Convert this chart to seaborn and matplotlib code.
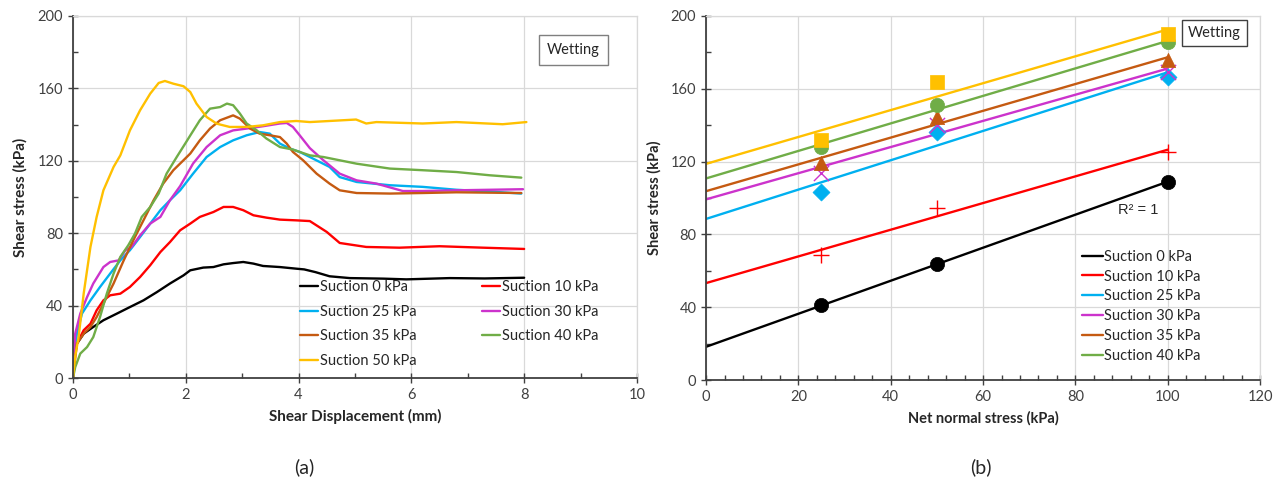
import numpy as np
import matplotlib
matplotlib.use("Agg")
import matplotlib.pyplot as plt
from matplotlib.ticker import MultipleLocator
import seaborn as sns

# --- (a) shear stress vs shear displacement, wetting path ---
disp_0 = [0, 0.03, 0.07, 0.19, 0.36, 0.54, 0.78, 1.01, 1.25, 1.49, 1.72, 1.96, 2.08, 2.31, 2.49,
          2.67, 2.84, 3.02, 3.2, 3.37, 3.67, 3.96, 4.1, 4.3, 4.55, 4.91, 5.5, 5.91, 6.68, 7.3, 8.0]
tau_0 = [0, 12, 19, 24.5, 28.2, 31.9, 35.6, 39.2, 42.9, 47.5, 52.2, 56.7, 59.5, 61, 61.3,
         62.8, 63.5, 64.1, 63.2, 61.9, 61.3, 60.4, 60, 58.5, 56.2, 55.2, 54.9, 54.5, 55.2, 55.0, 55.4]

disp_10 = [0, 0.03, 0.07, 0.19, 0.31, 0.42, 0.54, 0.66, 0.84, 1.01, 1.19, 1.37, 1.55, 1.72, 1.90, 2.08,
           2.25, 2.49, 2.67, 2.84, 3.02, 3.20, 3.43, 3.67, 3.96, 4.2, 4.5, 4.73, 5.2, 5.79, 6.5, 7.27, 8.0]
tau_10 = [0, 12, 19, 26.4, 30, 37.4, 42.9, 45.7, 46.6, 50.3, 55.8, 62.3, 69.6, 75.1, 81.6, 85.3,
          89, 91.7, 94.5, 94.5, 92.7, 89.9, 88.6, 87.5, 87.1, 86.7, 80.7, 74.6, 72.4, 72, 72.8, 72, 71.3]

disp_25 = [0, 0.03, 0.07, 0.16, 0.31, 0.48, 0.66, 0.84, 1.01, 1.19, 1.37, 1.55, 1.72, 1.90, 2.13, 2.37,
           2.61, 2.84, 3.08, 3.31, 3.49, 3.67, 3.85, 4.02, 4.2, 4.55, 4.73, 5.03, 5.62, 6.2, 6.8, 7.4, 7.95]
tau_25 = [0, 14, 24.5, 35.6, 42.9, 50.3, 57.7, 65, 70.6, 77.9, 85.3, 92.7, 98.2, 103.7, 112.9, 122.1,
          127.6, 131.3, 134.1, 135.9, 135, 129.5, 126.7, 124.9, 122.1, 116.6, 111, 108.3, 106.5, 105.6, 104, 103, 101.9]

disp_30 = [0, 0.04, 0.13, 0.25, 0.36, 0.54, 0.66, 0.81, 0.93, 1.04, 1.19, 1.37, 1.55, 1.72, 1.90, 2.13, 2.37,
           2.61, 2.84, 3.08, 3.37, 3.67, 3.79, 3.90, 4.02, 4.2, 4.44, 4.73, 5.03, 5.38, 5.85, 6.2, 6.8, 7.4, 7.98]
tau_30 = [0, 24.5, 35.6, 44.7, 52.2, 61.3, 64.1, 65, 70.6, 72.4, 78.8, 85.3, 89, 98.2, 106, 118.5, 127.6,
          134.1, 136.8, 137.8, 139.1, 140.6, 140.9, 138.7, 134.1, 127, 120.3, 112.9, 109.2, 107.4, 103.3, 103.3, 103.7, 104, 104.3]

disp_35 = [0, 0.07, 0.19, 0.31, 0.42, 0.54, 0.72, 0.90, 1.07, 1.25, 1.43, 1.60, 1.78, 1.96, 2.08, 2.25, 2.43,
           2.61, 2.84, 2.96, 3.14, 3.31, 3.49, 3.67, 3.79, 3.90, 4.08, 4.32, 4.55, 4.73, 5.03, 5.62, 6.2, 6.8, 7.95]
tau_35 = [0, 19, 24.5, 28.2, 33.7, 41.1, 52.2, 65, 76.1, 87.1, 98.2, 107.4, 114.8, 120.3, 124, 131.3, 137.8,
          142.4, 145.1, 143.3, 137.8, 135, 134.1, 133.1, 129.5, 124.9, 120.3, 112.9, 107.4, 103.7, 102.2, 101.9, 102.2, 102.6, 102.2]

disp_40 = [0, 0.04, 0.13, 0.25, 0.36, 0.48, 0.6, 0.72, 0.84, 0.98, 1.10, 1.22, 1.37, 1.52, 1.66, 1.84, 1.99,
           2.08, 2.25, 2.43, 2.61, 2.73, 2.84, 2.96, 3.08, 3.26, 3.43, 3.67, 3.90, 4.2, 4.44, 5.03, 5.62, 6.2, 6.8, 7.39, 7.95]
tau_40 = [0, 6, 13.5, 17.1, 22.6, 33.7, 46.6, 57.7, 66.9, 73.3, 79.8, 89, 94.5, 101.9, 112.9, 122.1, 129.5,
          134, 142.4, 148.8, 149.7, 151.6, 150.7, 146.1, 140.6, 136.8, 132.3, 127.6, 126.2, 123, 122.1, 118.4, 115.7, 114.8, 113.8, 112, 110.7]

disp_50 = [0, 0.04, 0.10, 0.19, 0.31, 0.42, 0.54, 0.72, 0.84, 1.01, 1.19, 1.37, 1.52, 1.63, 1.78, 1.96, 2.08,
           2.19, 2.37, 2.55, 2.78, 3.08, 3.37, 3.67, 3.96, 4.2, 5.02, 5.2, 5.38, 6.2, 6.8, 7.62, 8.04]
tau_50 = [0, 12, 22.6, 46.6, 72.4, 89, 103.7, 116.6, 123, 136.8, 147.9, 157.1, 163, 164.1, 162.6, 161.2, 158,
          151.6, 144.2, 140.5, 138.7, 138.7, 139.6, 141.4, 142, 141.4, 142.8, 140.6, 141.4, 140.6, 141.4, 140.2, 141.4]

# --- (b) peak shear stress vs net normal stress ---
net_normal = [25, 50, 100]
peak_0 = [41, 63.5, 109]
peak_10 = [68.5, 94.5, 125]
peak_25 = [103.5, 136.5, 166.5]
peak_30 = [114, 140, 169.5]
peak_35 = [119.5, 144.5, 176]
peak_40 = [128, 151, 185.5]
peak_50 = [132, 163.5, 190]

suction_labels = ["Suction 0 kPa", "Suction 10 kPa", "Suction 25 kPa", "Suction 30 kPa",
                  "Suction 35 kPa", "Suction 40 kPa", "Suction 50 kPa"]
colors = ["#000000", "#FF0000", "#00B0F0", "#CC33CC", "#C55A11", "#70AD47", "#FFC000"]
markers = ["o", "+", "D", "x", "^", "o", "s"]

curves = [(disp_0, tau_0), (disp_10, tau_10), (disp_25, tau_25), (disp_30, tau_30),
          (disp_35, tau_35), (disp_40, tau_40), (disp_50, tau_50)]
peaks = [peak_0, peak_10, peak_25, peak_30, peak_35, peak_40, peak_50]

sns.set_style("whitegrid")
plt.rcParams["font.family"] = ["Lato", "DejaVu Sans"]

fig, (ax1, ax2) = plt.subplots(1, 2, figsize=(12.8, 4.86), dpi=100)
ax1.set_position([0.0570, 0.2222, 0.4406, 0.7449])
ax2.set_position([0.5516, 0.2181, 0.4328, 0.7490])

# --- panel (a) ---
for (xs, ys), lab, col in zip(curves, suction_labels, colors):
    sns.lineplot(x=xs, y=ys, ax=ax1, color=col, lw=1.7, label=lab, sort=False, estimator=None)

ax1.set_xlim(0, 10)
ax1.set_ylim(0, 200)
ax1.xaxis.set_major_locator(MultipleLocator(2))
ax1.xaxis.set_minor_locator(MultipleLocator(1))
ax1.yaxis.set_major_locator(MultipleLocator(40))
ax1.yaxis.set_minor_locator(MultipleLocator(20))
ax1.set_xlabel("Shear Displacement (mm)", fontsize=11, fontweight="bold", labelpad=5)
ax1.set_ylabel("Shear stress (kPa)", fontsize=11, fontweight="bold", labelpad=7)

h, l = ax1.get_legend_handles_labels()
order = [0, 2, 4, 6, 1, 3, 5]
ax1.legend([h[i] for i in order], [l[i] for i in order], ncol=2, frameon=False,
           loc="upper left", bbox_to_anchor=(0.4025, 0.27), borderpad=0, borderaxespad=0,
           fontsize=10.5, handlelength=1.25, handletextpad=0.12, labelspacing=0.72, columnspacing=4.5)

ax1.text(8.87, 181, "Wetting", fontsize=10.5, ha="center", va="center",
         bbox=dict(boxstyle="square,pad=0.55", fc="white", ec="#7F7F7F", lw=1))

# --- panel (b) ---
x_fit = np.array([0, 100])
for i, (pk, lab, col, mk) in enumerate(zip(peaks, suction_labels, colors, markers)):
    coef = np.polyfit(net_normal, pk, 1)
    line_lab = lab if i < 6 else "_nolegend_"
    sns.lineplot(x=x_fit, y=np.polyval(coef, x_fit), ax=ax2, color=col, lw=1.7, label=line_lab)
    if mk in ("+", "x"):
        sns.scatterplot(x=net_normal, y=pk, ax=ax2, marker=mk, s=120, color=col,
                        linewidth=1.0, legend=False, zorder=4)
    else:
        size = 75 if mk == "D" else 105
        sns.scatterplot(x=net_normal, y=pk, ax=ax2, marker=mk, s=size, color=col,
                        edgecolor=col, linewidth=0.5, legend=False, zorder=4)

ax2.set_xlim(0, 120)
ax2.set_ylim(0, 200)
ax2.xaxis.set_major_locator(MultipleLocator(20))
ax2.xaxis.set_minor_locator(MultipleLocator(4))
ax2.yaxis.set_major_locator(MultipleLocator(40))
ax2.yaxis.set_minor_locator(MultipleLocator(20))
ax2.set_xlabel("Net normal stress (kPa)", fontsize=10.5, fontweight="bold", labelpad=5)
ax2.set_ylabel("Shear stress (kPa)", fontsize=10.5, fontweight="bold", labelpad=7)
ax2.legend(frameon=False, loc="upper left", bbox_to_anchor=(0.678, 0.358), borderpad=0,
           borderaxespad=0, fontsize=10.5, handlelength=1.45, handletextpad=0.1, labelspacing=0.4)
ax2.text(93.6, 93.4, "R² = 1", fontsize=10.5, ha="center", va="center", family="Liberation Sans")
ax2.text(110.1, 190.7, "Wetting", fontsize=10.5, ha="center", va="center",
         bbox=dict(boxstyle="square,pad=0.42", fc="white", ec="#404040", lw=1))

for ax in (ax1, ax2):
    ax.grid(True, which="major", color="#D9D9D9", lw=0.9)
    ax.grid(False, which="minor")
    for side in ("left", "bottom"):
        ax.spines[side].set_color("#404040")
        ax.spines[side].set_linewidth(1.3)
    for side in ("top", "right"):
        ax.spines[side].set_color("#D9D9D9")
        ax.spines[side].set_linewidth(0.9)
    ax.tick_params(which="major", direction="inout", length=7, width=1, color="#404040",
                   labelsize=10.5, labelcolor="#404040", left=True, bottom=True)
    ax.tick_params(which="minor", direction="in", length=3.5, width=1, color="#404040",
                   left=True, bottom=True)

fig.text(0.2375, 0.039, "(a)", fontsize=14, ha="center", va="center")
fig.text(0.766, 0.039, "(b)", fontsize=14, ha="center", va="center")

fig.savefig("out.png", dpi=100)
